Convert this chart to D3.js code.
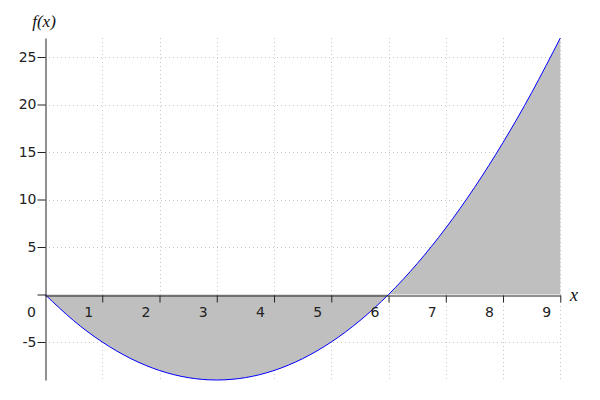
<!DOCTYPE html>
<html>
<head>
<meta charset="utf-8">
<script src="https://cdn.jsdelivr.net/npm/d3@7"></script>
<style>
  body { margin: 0; background: #fff; }
  svg { display: block; }
</style>
</head>
<body>
<svg id="chart" width="600" height="400"></svg>
<script>
// values
const xValues = [0, 0.5, 1, 1.5, 2, 2.5, 3, 3.5, 4, 4.5, 5, 5.5, 6, 6.5, 7, 7.5, 8, 8.5, 9]
const fValues = [0, -2.75, -5, -6.75, -8, -8.75, -9, -8.75, -8, -6.75, -5, -2.75, 0, 3.25, 7, 11.25, 16, 21.25, 27]
const xTicks = [1, 2, 3, 4, 5, 6, 7, 8, 9]
const yTicks = [-5, 5, 10, 15, 20, 25]

const data = xValues.map((x, i) => ({x: x, y: fValues[i]}))

// setting up container
    const svg = d3.select('#chart')
    const plotLeft = 45, plotRight = 560.3, plotTop = 38, plotBottom = 380

// set up scale
    const xScale = d3.scaleLinear()
        .domain([0, 9])
        .range([plotLeft, plotRight])
    const yScale = d3.scaleLinear()
        .domain([-9, 27])
        .range([plotBottom, plotTop])

// draw grid lines
    const grid = svg.append('g')
        .attr('stroke', '#c8c8c8')
        .attr('stroke-dasharray', '1,3')
        .attr('stroke-width', 1)
    grid.selectAll('.vgrid')
        .data(xTicks)
        .enter()
        .append('line')
            .attr('x1', d => Math.round(xScale(d)) + 0.5)
            .attr('x2', d => Math.round(xScale(d)) + 0.5)
            .attr('y1', plotTop)
            .attr('y2', plotBottom)
    grid.selectAll('.hgrid')
        .data(yTicks)
        .enter()
        .append('line')
            .attr('x1', plotLeft)
            .attr('x2', plotRight)
            .attr('y1', d => Math.round(yScale(d)) + 0.5)
            .attr('y2', d => Math.round(yScale(d)) + 0.5)

// area and curve
    const area = d3.area()
        .x(d => xScale(d.x))
        .y0(yScale(0))
        .y1(d => yScale(d.y))
        .curve(d3.curveNatural)
    svg.append('path')
        .datum(data)
        .attr('d', area)
        .attr('fill', '#bfbfbf')

    const line = d3.line()
        .x(d => xScale(d.x))
        .y(d => yScale(d.y))
        .curve(d3.curveNatural)
    svg.append('path')
        .datum(data)
        .attr('d', line)
        .attr('fill', 'none')
        .attr('stroke', '#0000ff')
        .attr('stroke-width', 1)

// set up axes
    const xAxis = d3.axisBottom(xScale)
        .tickValues(xTicks)
        .tickSize(7)
        .tickSizeOuter(0)
        .tickFormat('')
    const xg = svg.append('g')
        .attr('transform', `translate(0, ${Math.round(yScale(0)) + 0.5})`)
        .call(xAxis)
    xg.select('.domain').attr('stroke', '#222')
    xg.selectAll('.tick line').attr('stroke', '#222')
    xg.selectAll('.xlab')
        .data([0].concat(xTicks))
        .enter()
        .append('text')
            .attr('x', d => xScale(d) - 13.5)
            .attr('y', 16.5)
            .attr('text-anchor', 'middle')
            .attr('dy', '0.35em')
            .attr('fill', '#222')
            .style('font', '14px "DejaVu Sans"')
            .text(d => d)

    const yAxis = d3.axisLeft(yScale)
        .tickValues([0].concat(yTicks))
        .tickSize(8)
        .tickSizeOuter(0)
        .tickFormat(d => d === 0 ? '' : d)
    const yg = svg.append('g')
        .attr('transform', `translate(${plotLeft + 0.5}, 0)`)
        .call(yAxis)
    yg.select('.domain').attr('stroke', '#222')
    yg.selectAll('.tick line').attr('stroke', '#222')
    yg.selectAll('.tick text')
        .attr('fill', '#222')
        .attr('x', -9)
        .style('font', '14px "DejaVu Sans"')

// axis labels
    svg.append('text')
        .attr('x', 44)
        .attr('y', 27)
        .attr('text-anchor', 'middle')
        .style('font', 'italic 17px "Liberation Serif"')
        .attr('fill', '#111')
        .text('f(x)')
    svg.append('text')
        .attr('x', 574)
        .attr('y', 301)
        .attr('text-anchor', 'middle')
        .style('font', 'italic 18px "Liberation Serif"')
        .attr('fill', '#111')
        .text('x')
</script>
</body>
</html>
